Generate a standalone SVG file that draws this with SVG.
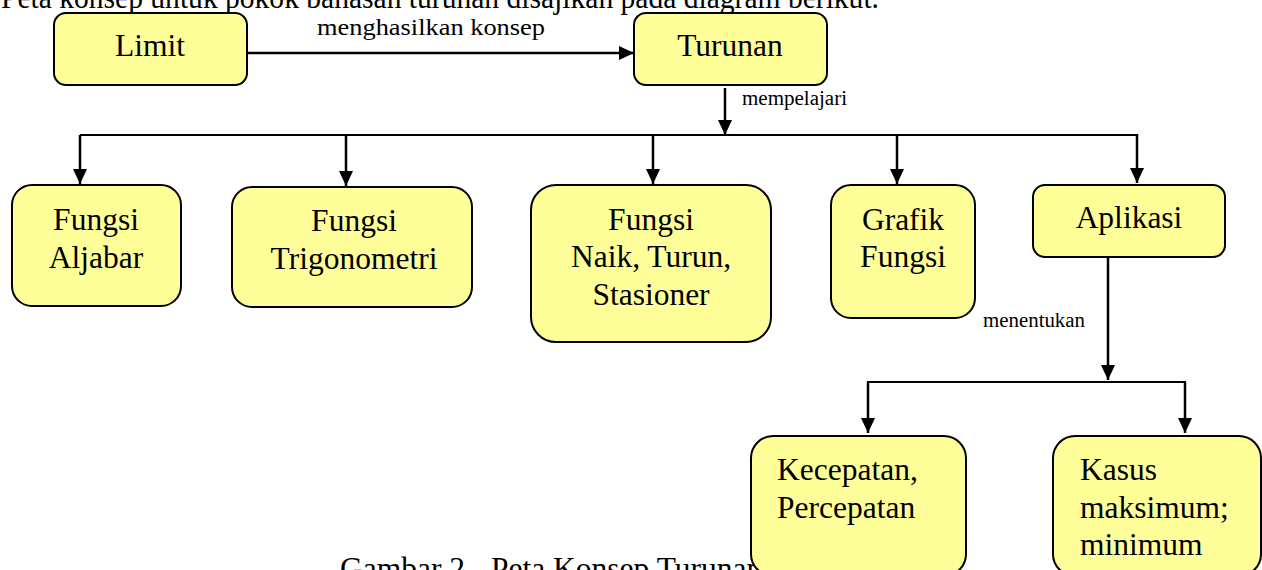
<svg xmlns="http://www.w3.org/2000/svg" width="1262" height="570" viewBox="0 0 1262 570">
<style>
text{font-family:"Liberation Serif","Times New Roman",serif;fill:#000}
.big{font-size:31.5px}
.small{font-size:24px}
.tiny{font-size:20px}
.box{fill:#FFFF99;stroke:#000;stroke-width:2}
.ln{fill:none;stroke:#000;stroke-width:2.5}
.bus{fill:none;stroke:#000;stroke-width:2}
.c{text-anchor:middle}
</style>
<defs>
<marker id="ah" markerUnits="userSpaceOnUse" markerWidth="16" markerHeight="15" refX="15" refY="7" orient="auto">
<path d="M0,0 L15,7 L0,14 z" fill="#000"/>
</marker>
</defs>
<rect width="1262" height="570" fill="#fff"/>
<text class="big" x="1" y="8" textLength="878" lengthAdjust="spacingAndGlyphs">Peta konsep untuk pokok bahasan turunan disajikan pada diagram berikut.</text>
<text class="big" x="340" y="579">Gambar 2.<tspan x="491">Peta Konsep Turunan</tspan></text>

<g id="connectors">
<line class="ln" x1="247" y1="53" x2="634" y2="53" marker-end="url(#ah)"/>
<text class="small" x="317" y="35" textLength="228" lengthAdjust="spacingAndGlyphs">menghasilkan konsep</text>
<line class="ln" x1="725" y1="88" x2="725" y2="135" marker-end="url(#ah)"/>
<text class="tiny" x="742" y="105" textLength="105" lengthAdjust="spacingAndGlyphs">mempelajari</text>
<polyline class="bus" points="80,135 1137,135"/>
<line class="ln" x1="80" y1="135" x2="80" y2="184" marker-end="url(#ah)"/>
<line class="ln" x1="346" y1="135" x2="346" y2="186" marker-end="url(#ah)"/>
<line class="ln" x1="653" y1="135" x2="653" y2="184" marker-end="url(#ah)"/>
<line class="ln" x1="897" y1="135" x2="897" y2="184" marker-end="url(#ah)"/>
<line class="ln" x1="1137" y1="134" x2="1137" y2="183" marker-end="url(#ah)"/>
<line class="ln" x1="1108" y1="257" x2="1108" y2="380" marker-end="url(#ah)"/>
<text class="tiny" x="983" y="327" textLength="102" lengthAdjust="spacingAndGlyphs">menentukan</text>
<polyline class="bus" points="868,430 868,382 1185,382 1185,430"/>
<line class="ln" x1="868" y1="382" x2="868" y2="433" marker-end="url(#ah)"/>
<line class="ln" x1="1185" y1="382" x2="1185" y2="433" marker-end="url(#ah)"/>
</g>

<g id="limit">
<rect class="box" x="54" y="13" width="193" height="72" rx="12"/>
<text class="big c" x="150" y="56">Limit</text>
</g>
<g id="turunan">
<rect class="box" x="634" y="13" width="193" height="72" rx="12"/>
<text class="big c" x="730" y="56">Turunan</text>
</g>
<g id="aljabar">
<rect class="box" x="12" y="185" width="169" height="121" rx="20"/>
<text class="big c" x="96" y="230">Fungsi</text>
<text class="big c" x="96" y="268">Aljabar</text>
</g>
<g id="trigonometri">
<rect class="box" x="232" y="187" width="240" height="120" rx="20"/>
<text class="big c" x="354" y="231">Fungsi</text>
<text class="big c" x="354" y="269">Trigonometri</text>
</g>
<g id="naikturun">
<rect class="box" x="531" y="185" width="240" height="157" rx="25"/>
<text class="big c" x="651" y="230">Fungsi</text>
<text class="big c" x="651" y="267">Naik, Turun,</text>
<text class="big c" x="651" y="305">Stasioner</text>
</g>
<g id="grafik">
<rect class="box" x="831" y="185" width="144" height="133" rx="20"/>
<text class="big c" x="903" y="230">Grafik</text>
<text class="big c" x="903" y="267">Fungsi</text>
</g>
<g id="aplikasi">
<rect class="box" x="1033" y="185" width="192" height="72" rx="12"/>
<text class="big c" x="1129" y="228">Aplikasi</text>
</g>
<g id="kecepatan">
<rect class="box" x="751" y="436" width="215" height="140" rx="22"/>
<text class="big" x="777" y="480">Kecepatan,</text>
<text class="big" x="777" y="518">Percepatan</text>
</g>
<g id="kasus">
<rect class="box" x="1053" y="436" width="208" height="140" rx="22"/>
<text class="big" x="1080" y="480">Kasus</text>
<text class="big" x="1080" y="555">minimum</text>
<text class="big" x="1080" y="518">maksimum;</text>
</g>
</svg>
